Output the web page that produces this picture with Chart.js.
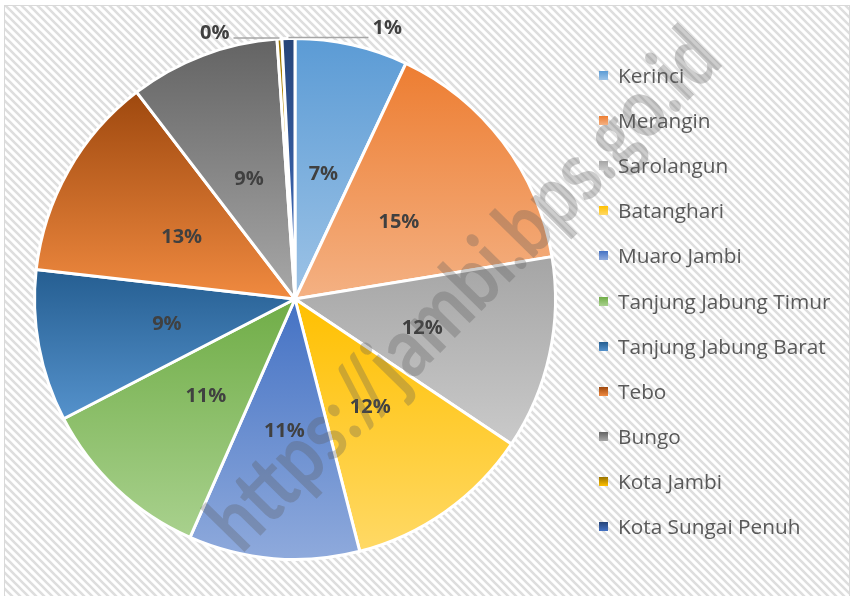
<!DOCTYPE html>
<html>
<head>
<meta charset="utf-8">
<script src="https://cdn.jsdelivr.net/npm/chart.js@4.4.1/dist/chart.umd.min.js"></script>
<style>
  body { margin: 0; background: #fff; }
  #wrap { position: relative; width: 854px; height: 596px; }
  #legend { position: absolute; left: 0; top: 0; font-family: "Open Sans", "Noto Sans", sans-serif; font-size: 20.8px; color: #595959; }
  .row { position: absolute; left: 599px; white-space: nowrap; height: 28px; line-height: 28px; }
  .box { position: absolute; left: 0; top: 10px; width: 9px; height: 9px; }
  .txt { position: absolute; left: 19px; top: 0; }
</style>
</head>
<body>
<div id="wrap">
  <canvas id="pie" width="854" height="596"></canvas>
  <div id="legend"></div>
</div>
<script>
// Data
var regions = ["Kerinci", "Merangin", "Sarolangun", "Batanghari", "Muaro Jambi", "Tanjung Jabung Timur",
  "Tanjung Jabung Barat", "Tebo", "Bungo", "Kota Jambi", "Kota Sungai Penuh"];
var shares = [7.0, 15.4, 12.0, 11.6, 10.6, 10.8, 9.4, 12.8, 9.3, 0.3, 0.8];

// slice colours: darker at the top of each slice, lighter at the bottom
var topColors = ["#5B9BD5", "#ED7D31", "#A5A5A5", "#FFC000", "#4472C4", "#70AD47",
  "#255E91", "#9E480E", "#636363", "#997300", "#264478"];
var bottomColors = ["#9DC3E6", "#F4B183", "#CACACA", "#FFD966", "#8FAADC", "#A9D18E",
  "#5592CC", "#F08A40", "#A8A8A8", "#FFC000", "#4472C4"];

var total = shares.reduce(function (a, b) { return a + b; }, 0);
var cum = [0];
shares.forEach(function (v, i) { cum.push(cum[i] + v); });

function sliceFill(c) {
  var i = c.dataIndex;
  var area = c.chart.chartArea;
  if (!area || c.type !== 'data') return topColors[i];
  var cy = (area.top + area.bottom) / 2;
  var r = Math.min(area.width, area.height) / 2;
  var a0 = cum[i] / total * Math.PI * 2, a1 = cum[i + 1] / total * Math.PI * 2;
  var ys = [cy, cy - r * Math.cos(a0), cy - r * Math.cos(a1)];
  if (a0 <= Math.PI && a1 >= Math.PI) ys.push(cy + r);
  if (a0 <= 0.0001) ys.push(cy - r);
  var y0 = Math.min.apply(null, ys), y1 = Math.max.apply(null, ys);
  if (y1 - y0 < 1) y1 = y0 + 1;
  var g = c.chart.ctx.createLinearGradient(0, y0, 0, y1);
  g.addColorStop(0, topColors[i]);
  g.addColorStop(1, bottomColors[i]);
  return g;
}

//Background: white with the light diagonal hatch and a thin frame
var hatchBg = {
  id: 'hatchBg',
  beforeDraw: function (chart) {
    var ctx = chart.ctx;
    var p = document.createElement('canvas');
    p.width = 8; p.height = 8;
    var pc = p.getContext('2d');
    pc.fillStyle = '#ffffff';
    pc.fillRect(0, 0, 8, 8);
    pc.strokeStyle = '#dedede';
    pc.lineWidth = 2.6;
    pc.beginPath();
    pc.moveTo(-2, -2); pc.lineTo(10, 10);
    pc.moveTo(-6, 2); pc.lineTo(2, 10);
    pc.moveTo(6, -2); pc.lineTo(14, 6);
    pc.stroke();
    ctx.save();
    ctx.fillStyle = '#fff';
    ctx.fillRect(0, 0, chart.width, chart.height);
    ctx.fillStyle = ctx.createPattern(p, 'repeat');
    ctx.fillRect(4, 5, chart.width - 8, chart.height - 5);
    ctx.strokeStyle = '#d9d9d9';
    ctx.lineWidth = 1;
    ctx.strokeRect(4.5, 5.5, chart.width - 9, chart.height - 3);
    ctx.restore();
  }
};

//Percent labels, with leader lines for the two tiny slices
var pctLabels = {
  id: 'pctLabels',
  afterDatasetsDraw: function (chart) {
    var ctx = chart.ctx;
    var arcs = chart.getDatasetMeta(0).data;
    ctx.save();
    ctx.font = 'bold 20px "Open Sans", "Noto Sans", sans-serif';
    ctx.fillStyle = '#404040';
    ctx.textBaseline = 'middle';
    arcs.forEach(function (arc, i) {
      var txt = Math.round(shares[i] / total * 100) + '%';
      if (shares[i] >= 2) {
        var pos = arc.tooltipPosition();
        ctx.textAlign = 'center';
        ctx.fillText(txt, pos.x, pos.y + 2);
        return;
      }
      var mid = (arc.startAngle + arc.endAngle) / 2;
      var px = arc.x + arc.outerRadius * Math.cos(mid);
      var py = arc.y + arc.outerRadius * Math.sin(mid) - 1;
      var dir = i === 9 ? -1 : 1;
      var len = i === 9 ? 46 : 80;
      ctx.strokeStyle = '#a6a6a6';
      ctx.lineWidth = 1.5;
      ctx.beginPath();
      ctx.moveTo(px, py);
      ctx.lineTo(px + dir * len, py);
      ctx.stroke();
      ctx.textAlign = dir < 0 ? 'right' : 'left';
      ctx.fillText(txt, px + dir * (len + 4), py - (dir < 0 ? 5 : 9));
    });
    ctx.restore();
  }
};

//Watermark across the chart
var watermark = {
  id: 'watermark',
  afterDraw: function (chart) {
    var ctx = chart.ctx;
    var text = 'https://jambi.bps.go.id';
    ctx.save();
    ctx.font = 'bold 60px Lato, "Noto Sans", sans-serif';
    var w = ctx.measureText(text).width;
    var k = 690 / w;
    ctx.translate(464, 290);
    ctx.rotate(-45.5 * Math.PI / 180);
    ctx.scale(k, k * 1.2);
    ctx.fillStyle = 'rgba(90,90,90,0.3)';
    ctx.textAlign = 'center';
    ctx.textBaseline = 'middle';
    ctx.fillText(text, 0, 0);
    ctx.restore();
  }
};

var pieChart = new Chart(document.getElementById('pie'), {
  type: 'pie',
  data: {
    labels: regions,
    datasets: [{
      data: shares,
      backgroundColor: sliceFill,
      borderColor: '#ffffff',
      borderWidth: 3
    }]
  },
  options: {
    responsive: false,
    animation: false,
    layout: { padding: { left: 33, top: 37, right: 297, bottom: 35 } },
    plugins: {
      legend: { display: false },
      tooltip: { enabled: false }
    }
  },
  plugins: [hatchBg, pctLabels, watermark]
});

//Legend on the right
var legend = document.getElementById('legend');
regions.forEach(function (name, i) {
  var row = document.createElement('div');
  row.className = 'row';
  row.style.top = (75 + i * 45.1 - 14) + 'px';
  row.innerHTML = '<span class="box" style="background:linear-gradient(' + topColors[i] + ',' + bottomColors[i] + ')"></span>' +
    '<span class="txt">' + name + '</span>';
  legend.appendChild(row);
});
</script>
</body>
</html>
